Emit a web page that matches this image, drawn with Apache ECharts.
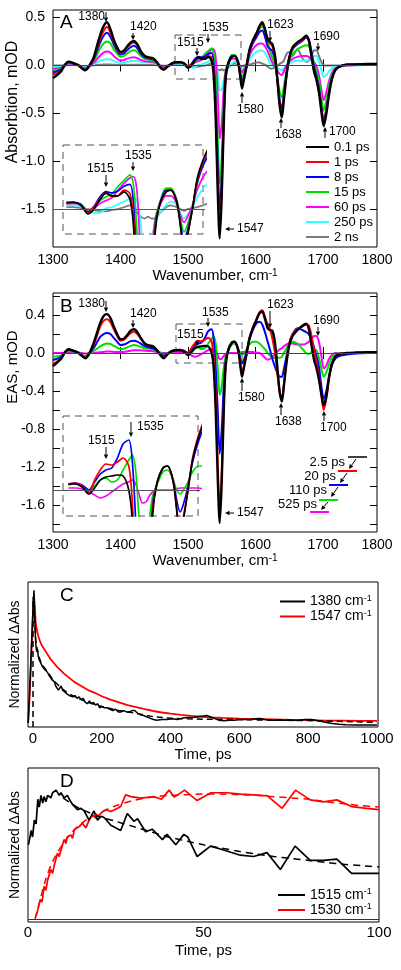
<!DOCTYPE html>
<html><head><meta charset="utf-8">
<script src="https://cdn.jsdelivr.net/npm/echarts@6/dist/echarts.min.js"></script>
<style>html,body{margin:0;padding:0;background:#fff}#c{width:401px;height:970px}</style>
</head><body><div id="c"></div>
<script>
// ---------- DATA ----------
const W = [1300,1306,1312,1318,1323,1330,1337,1343,1348,1354,
1360,1365,1370,1375,1380,1385,1390,1395,1400,1405,
1410,1415,1420,1425,1430,1436,1442,1448,1454,1459,
1464,1470,1476,1482,1488,1494,1500,1505,1510,1515,
1520,1525,1530,1535,1538,1541,1544,1547,1550,1553,
1556,1560,1565,1569,1574,1577,1580,1583,1587,1591,
1596,1601,1606,1610,1614,1618,1622,1625,1629,1633,
1636,1639,1642,1646,1650,1655,1662,1670,1675,1679,
1683,1687,1690,1694,1698,1701,1705,1709,1713,1718,
1725,1735,1750,1765,1780];

const A_01ps = [-0.13,-0.10,-0.06,0.01,0.04,0.025,0.005,-0.03,-0.05,0.0,
0.08,0.2,0.32,0.41,0.45,0.38,0.27,0.19,0.14,0.155,
0.2,0.24,0.255,0.22,0.15,0.1,0.085,0.075,0.035,-0.02,
-0.045,-0.01,0.022,0.035,0.035,0.02,-0.025,0.0,0.05,0.084,
0.07,0.07,0.09,0.05,-0.1,-0.55,-1.3,-1.8,-1.35,-0.6,
-0.12,0.03,0.09,0.10,0.035,-0.09,-0.24,-0.14,0.0,0.16,
0.26,0.33,0.41,0.45,0.38,0.27,0.24,0.225,0.1,-0.2,
-0.43,-0.54,-0.36,-0.1,0.08,0.19,0.24,0.28,0.31,0.26,
0.09,-0.07,-0.14,-0.28,-0.5,-0.63,-0.5,-0.3,-0.15,-0.05,
-0.01,0.01,0.012,0.015,0.015];
const A_1ps = [-0.095,-0.08,-0.05,0.01,0.04,0.025,0.005,-0.03,-0.05,0.0,
0.07,0.18,0.28,0.36,0.40,0.345,0.25,0.175,0.13,0.145,
0.185,0.225,0.24,0.21,0.145,0.095,0.08,0.07,0.032,-0.018,
-0.04,-0.01,0.02,0.033,0.035,0.022,-0.02,0.01,0.055,0.084,
0.065,0.07,0.1,0.08,-0.05,-0.45,-1.2,-1.72,-1.3,-0.55,
-0.1,0.03,0.09,0.10,0.035,-0.08,-0.21,-0.13,0.0,0.15,
0.25,0.32,0.40,0.43,0.37,0.27,0.23,0.2,0.08,-0.2,
-0.41,-0.5,-0.34,-0.1,0.08,0.18,0.23,0.27,0.30,0.26,
0.1,-0.06,-0.13,-0.26,-0.47,-0.59,-0.47,-0.28,-0.14,-0.05,
-0.01,0.005,0.01,0.012,0.012];
const A_8ps = [-0.07,-0.06,-0.04,0.01,0.035,0.022,0.005,-0.027,-0.045,0.0,
0.06,0.15,0.24,0.31,0.34,0.30,0.22,0.155,0.115,0.125,
0.16,0.19,0.205,0.18,0.125,0.085,0.072,0.063,0.03,-0.014,
-0.035,-0.008,0.018,0.032,0.035,0.025,-0.015,0.015,0.065,0.092,
0.085,0.095,0.12,0.13,0.02,-0.35,-1.0,-1.5,-1.15,-0.5,
-0.08,0.03,0.1,0.10,0.04,-0.07,-0.17,-0.11,0.0,0.14,
0.23,0.29,0.35,0.365,0.3,0.2,0.17,0.15,0.05,-0.18,
-0.37,-0.45,-0.3,-0.08,0.08,0.17,0.22,0.26,0.29,0.27,
0.14,-0.02,-0.1,-0.23,-0.45,-0.57,-0.45,-0.27,-0.13,-0.05,
-0.01,0.005,0.008,0.01,0.01];
const A_15ps = [-0.05,-0.045,-0.03,0.005,0.03,0.02,0.005,-0.022,-0.038,-0.002,
0.045,0.11,0.18,0.23,0.25,0.23,0.17,0.125,0.09,0.1,
0.125,0.15,0.16,0.14,0.1,0.07,0.06,0.052,0.025,-0.01,
-0.028,-0.006,0.015,0.03,0.033,0.025,-0.01,0.01,0.045,0.065,
0.08,0.12,0.15,0.18,0.12,-0.15,-0.75,-1.23,-0.95,-0.4,
-0.06,0.04,0.11,0.11,0.05,-0.05,-0.12,-0.08,0.01,0.13,
0.24,0.31,0.38,0.40,0.36,0.26,0.14,0.08,0.0,-0.15,
-0.28,-0.33,-0.22,-0.06,0.05,0.12,0.17,0.2,0.21,0.2,
0.12,0.02,-0.05,-0.16,-0.36,-0.47,-0.36,-0.21,-0.1,-0.04,
-0.01,0.005,0.006,0.008,0.008];
const A_60ps = [-0.035,-0.032,-0.022,0.0,0.022,0.015,0.005,-0.016,-0.028,-0.004,
0.025,0.065,0.105,0.135,0.145,0.135,0.1,0.07,0.05,0.057,
0.072,0.082,0.085,0.075,0.058,0.045,0.04,0.036,0.02,-0.004,
-0.018,-0.003,0.012,0.027,0.03,0.022,-0.005,0.005,0.03,0.045,
0.06,0.1,0.135,0.165,0.17,0.08,-0.3,-0.76,-0.6,-0.25,
-0.05,0.02,0.07,0.07,0.03,-0.03,-0.07,-0.04,0.02,0.1,
0.17,0.21,0.23,0.23,0.2,0.15,0.08,0.03,-0.02,-0.06,
-0.09,-0.1,-0.06,0.0,0.04,0.07,0.09,0.1,0.1,0.09,
0.06,0.03,0.0,-0.1,-0.27,-0.36,-0.28,-0.16,-0.08,-0.03,
-0.01,0.0,0.004,0.006,0.006];
const A_250ps = [-0.017,-0.016,-0.012,-0.002,0.012,0.01,0.004,-0.01,-0.018,-0.004,
0.012,0.03,0.05,0.06,0.065,0.062,0.048,0.034,0.025,0.028,
0.037,0.046,0.05,0.047,0.04,0.033,0.03,0.027,0.016,0.0,
-0.008,0.0,0.01,0.02,0.02,0.012,-0.005,-0.02,-0.02,0.005,
0.01,0.025,0.04,0.055,0.06,0.04,-0.08,-0.26,-0.25,-0.15,
-0.07,-0.02,0.02,0.04,0.02,-0.02,-0.05,-0.03,0.01,0.06,
0.11,0.14,0.155,0.155,0.13,0.08,0.02,0.0,-0.01,-0.03,
-0.04,-0.05,-0.03,0.0,0.02,0.04,0.05,0.05,0.05,0.06,
0.08,0.1,0.1,0.04,-0.06,-0.12,-0.1,-0.06,-0.03,-0.01,
0.0,0.0,0.003,0.004,0.004];
const A_2ns = [0.0,0.0,0.0,0.003,0.005,0.005,0.002,-0.005,-0.01,-0.002,
0.003,0.005,0.008,0.01,0.01,0.01,0.008,0.006,0.005,0.005,
0.006,0.007,0.008,0.008,0.007,0.006,0.006,0.005,0.003,0.0,
-0.003,0.0,0.005,0.01,0.01,0.005,0.0,-0.005,-0.01,-0.012,
-0.005,0.0,0.01,0.02,0.0,-0.02,-0.04,-0.05,-0.04,-0.05,
-0.05,-0.02,0.01,0.02,0.01,0.0,-0.01,0.0,0.005,0.01,
0.02,0.03,0.03,0.02,0.01,-0.01,-0.03,-0.03,-0.02,0.0,
0.02,0.03,0.05,0.12,0.14,0.1,0.17,0.07,0.04,0.05,
0.1,0.16,0.16,0.1,0.03,0.0,0.0,0.0,0.0,0.0,
0.0,0.005,0.01,0.012,0.012];

const B_2p5ps = [-0.137,-0.1,-0.06,0.01,0.04,0.025,0.005,-0.03,-0.055,0.0,
0.1,0.21,0.32,0.39,0.41,0.37,0.28,0.2,0.145,0.15,
0.19,0.235,0.25,0.22,0.16,0.1,0.08,0.07,0.03,-0.02,
-0.055,-0.01,0.02,0.03,0.03,0.015,-0.02,0.01,0.05,0.065,
0.07,0.075,0.07,0.0,-0.15,-0.6,-1.3,-1.79,-1.35,-0.6,
-0.12,0.04,0.11,0.12,0.04,-0.1,-0.25,-0.15,0.0,0.15,
0.26,0.34,0.42,0.435,0.36,0.26,0.24,0.235,0.1,-0.2,
-0.42,-0.51,-0.35,-0.1,0.08,0.18,0.24,0.29,0.31,0.25,
0.08,-0.08,-0.15,-0.28,-0.45,-0.55,-0.45,-0.25,-0.12,-0.04,
-0.01,0.0,0.005,0.008,0.01];
const B_20ps = [-0.115,-0.09,-0.055,0.01,0.04,0.025,0.005,-0.03,-0.05,0.0,
0.08,0.18,0.28,0.34,0.355,0.325,0.25,0.18,0.13,0.14,
0.175,0.21,0.225,0.2,0.15,0.1,0.08,0.07,0.03,-0.02,
-0.05,-0.01,0.02,0.03,0.035,0.02,-0.015,0.05,0.1,0.13,
0.125,0.14,0.16,0.12,-0.05,-0.45,-1.15,-1.66,-1.25,-0.55,
-0.1,0.04,0.11,0.12,0.04,-0.09,-0.21,-0.13,0.0,0.16,
0.27,0.35,0.43,0.45,0.38,0.3,0.24,0.15,0.0,-0.25,
-0.42,-0.48,-0.33,-0.08,0.1,0.2,0.25,0.28,0.3,0.29,
0.18,0.02,-0.08,-0.25,-0.47,-0.6,-0.48,-0.27,-0.12,-0.04,
-0.01,0.0,0.005,0.008,0.01];
const B_110ps = [-0.074,-0.06,-0.04,0.01,0.035,0.02,0.005,-0.03,-0.05,-0.005,
0.05,0.11,0.17,0.2,0.21,0.2,0.16,0.12,0.085,0.09,
0.105,0.125,0.13,0.12,0.1,0.072,0.06,0.05,0.025,-0.01,
-0.03,-0.005,0.02,0.03,0.035,0.025,0.0,0.04,0.08,0.1,
0.11,0.16,0.23,0.25,0.15,-0.15,-0.6,-1.06,-0.8,-0.35,
-0.07,0.04,0.11,0.12,0.05,-0.05,-0.11,-0.07,0.02,0.14,
0.24,0.31,0.33,0.3,0.22,0.12,0.02,-0.06,-0.15,-0.22,
-0.25,-0.25,-0.17,-0.03,0.1,0.2,0.26,0.24,0.22,0.2,
0.15,0.05,-0.02,-0.15,-0.37,-0.48,-0.4,-0.25,-0.13,-0.06,
-0.03,-0.015,-0.005,0.0,0.0];
const B_525ps = [-0.04,-0.035,-0.025,0.005,0.025,0.015,0.005,-0.02,-0.03,-0.005,
0.02,0.045,0.07,0.09,0.1,0.095,0.075,0.058,0.042,0.045,
0.06,0.075,0.085,0.078,0.065,0.05,0.045,0.04,0.02,0.0,
-0.012,0.0,0.015,0.025,0.03,0.025,0.0,0.02,0.05,0.06,
0.04,0.05,0.1,0.15,0.175,0.1,-0.15,-0.44,-0.35,-0.15,
-0.03,0.03,0.09,0.1,0.05,0.0,-0.02,0.0,0.04,0.09,
0.12,0.12,0.1,0.07,0.04,0.0,-0.03,-0.05,-0.05,-0.05,
-0.05,-0.04,0.0,0.05,0.1,0.12,0.1,0.04,0.0,-0.01,
0.01,0.03,0.03,-0.05,-0.18,-0.25,-0.2,-0.12,-0.05,-0.02,
0.0,0.0,0.0,0.003,0.003];
const B_final = [0.0,0.0,0.0,0.005,0.01,0.008,0.003,0.0,-0.005,0.0,
0.002,0.005,0.008,0.012,0.015,0.015,0.012,0.01,0.01,0.012,
0.018,0.025,0.03,0.03,0.028,0.025,0.022,0.02,0.012,0.005,
0.0,0.0,0.005,0.01,0.01,0.005,-0.01,-0.025,-0.04,-0.03,
-0.01,0.01,0.03,0.04,0.05,0.03,-0.02,-0.065,-0.06,-0.03,
-0.01,0.0,0.0,0.0,0.0,0.005,0.01,0.01,0.01,0.01,
0.01,0.005,0.0,-0.02,-0.05,-0.07,-0.06,-0.04,-0.01,0.02,
0.04,0.05,0.07,0.09,0.1,0.1,0.09,0.09,0.1,0.12,
0.15,0.18,0.18,0.12,-0.05,-0.16,-0.13,-0.06,-0.02,0.0,
0.0,0.0,0.0,0.002,0.002];

const C_t_1380 = [-14,-10,-6,-2,1,3,5,7,9,11,13,15,17,19,22,25,28,31,34,38,42,46,50,54,58,62,66,70,74,78,82,86,90,95,100,105,110,116,122,128,134,140,146,152,158,164,170,176,182,188,194,200,208,216,224,232,240,248,256,264,272,280,288,296,304,312,320,330,340,350,360,375,390,405,420,435,450,465,480,495,505,515,525,540,555,570,585,600,615,630,645,660,675,690,710,730,750,770,790,810,830,850,870,890,910,940,970,1000];
const C_v_1380 = [0.03,0.25,0.5,0.75,0.92,1.0,0.82,0.66,0.58,0.55,0.57,0.52,0.5,0.51,0.47,0.46,0.44,0.45,0.42,0.43,0.4,0.38,0.39,0.35,0.34,0.33,0.3,0.31,0.27,0.28,0.3,0.27,0.26,0.25,0.25,0.23,0.24,0.22,0.23,0.21,0.22,0.2,0.21,0.18,0.17,0.19,0.17,0.18,0.16,0.17,0.14,0.15,0.14,0.14,0.13,0.12,0.13,0.11,0.11,0.12,0.11,0.11,0.12,0.12,0.1,0.09,0.085,0.075,0.065,0.055,0.05,0.055,0.055,0.06,0.055,0.065,0.07,0.07,0.075,0.08,0.085,0.075,0.065,0.05,0.045,0.05,0.05,0.055,0.055,0.055,0.06,0.062,0.055,0.05,0.05,0.05,0.052,0.05,0.055,0.055,0.045,0.035,0.025,0.02,0.016,0.015,0.015,0.015];
const C_t_1547 = [-14,-10,-6,-2,1,3,5,8,12,16,20,25,30,40,50,60,70,80,90,100,120,140,160,180,200,225,250,275,300,325,350,375,400,430,460,490,520,550,600,650,700,750,800,850,900,950,1000];
const C_v_1547 = [0.03,0.22,0.45,0.7,0.88,0.96,0.88,0.76,0.7,0.66,0.63,0.6,0.58,0.54,0.5,0.47,0.44,0.415,0.39,0.37,0.33,0.3,0.27,0.25,0.225,0.2,0.18,0.16,0.145,0.13,0.117,0.106,0.097,0.088,0.081,0.075,0.07,0.066,0.061,0.058,0.055,0.052,0.05,0.047,0.046,0.045,0.045];
const C_fit_t = [0,0,3,8,15,25,40,60,80,100,130,160,200,250,300,350,400,450,500,600,700,800,900,1000];
const C_fit_v = [0,0.95,0.9,0.63,0.53,0.46,0.41,0.34,0.29,0.25,0.21,0.18,0.15,0.12,0.1,0.075,0.064,0.06,0.057,0.054,0.05,0.047,0.04,0.035];

const D_t_1515 = [0.1,0.5,0.9,1.3,1.8,2.3,2.8,3.2,3.7,4.2,4.6,5.1,5.6,6.5,7.0,7.5,8.0,8.4,8.9,9.4,9.8,10.3,10.8,11.2,11.7,12.2,12.7,13.2,14.1,15.1,16.0,17.4,18.8,19.8,20.8,21.7,23.6,26.4,28.3,30.2,31.2,33.5,35.4,38.3,39.6,42.1,44.4,45.5,48.2,52.0,55.7,60.5,64.3,68.1,71.9,76.1,80.4,84.2,88.0,92.2,96.5,100];
const D_v_1515 = [0.57,0.62,0.68,0.63,0.76,0.73,0.92,0.86,0.95,0.89,0.94,0.9,0.95,0.93,0.97,0.96,0.99,1.0,0.95,0.97,0.96,0.93,0.92,0.95,0.94,0.9,0.88,0.89,0.84,0.85,0.83,0.76,0.83,0.76,0.79,0.78,0.72,0.68,0.81,0.75,0.77,0.67,0.69,0.61,0.65,0.57,0.65,0.63,0.48,0.56,0.53,0.49,0.48,0.51,0.38,0.56,0.45,0.45,0.46,0.35,0.35,0.35];
const D_t_1530 = [2.3,2.8,3.5,4.0,4.6,5.1,5.6,6.5,7.0,7.5,8.4,8.9,9.4,10.3,10.8,11.2,12.2,12.7,13.2,14.6,15.5,16.5,17.4,18.4,19.3,20.8,22.2,23.6,25.5,26.4,27.8,29.3,32.1,35.9,38.0,40.2,41.7,44.6,48.2,52.1,56.8,60.6,64.4,68.2,72.4,76.2,80.4,84.2,88.0,92.2,96.5,100];
const D_v_1530 = [0.02,0.07,0.15,0.13,0.25,0.22,0.3,0.38,0.35,0.415,0.505,0.48,0.53,0.61,0.58,0.63,0.646,0.62,0.685,0.71,0.736,0.7,0.76,0.8,0.774,0.813,0.84,0.826,0.85,0.864,0.954,0.94,0.928,0.94,0.92,0.99,0.936,0.99,0.91,0.97,0.97,0.96,0.954,0.946,0.85,0.99,0.915,0.9,0.915,0.864,0.85,0.84];
const D_fit1515_t = [10,14,20,25,30,35,40,45,50,55,60,65,70,75,80,85,90,95,100];
const D_fit1515_v = [0.93,0.86,0.79,0.75,0.71,0.67,0.63,0.6,0.57,0.545,0.52,0.5,0.48,0.465,0.45,0.435,0.42,0.41,0.4];
const D_fit1530_t = [2,3,5,7,10,13,16,20,25,30,35,40,45,50,55,60,65,70,75,80,85,90,95,100];
const D_fit1530_v = [0,0.1,0.3,0.44,0.58,0.68,0.75,0.81,0.87,0.91,0.935,0.95,0.955,0.96,0.96,0.955,0.95,0.94,0.93,0.92,0.9,0.885,0.87,0.86];

const WN_LABEL_POS = [1300,1400,1500,1600,1700,1780];
const WN_LABEL_TEXT = ['1300','1400','1500','1600','1700','1800'];
const WN_TICKS = [1400,1500,1600,1700];
const A_Y_TICKS = [-1.5,-1.0,-0.5,0,0.5];
const B_Y_LABELS = [-1.6,-1.2,-0.8,-0.4,0,0.4];
const B_Y_TICKS = [-1.8,-1.6,-1.4,-1.2,-1.0,-0.8,-0.6,-0.4,-0.2,0,0.2,0.4,0.6];
const C_X_LABELS = [0,200,400,600,800,1000];
const D_X_LABELS = [0,50,100];

// ---------- BUILD ----------
const FONT = '"Liberation Sans", Arial, Helvetica, sans-serif';
const COL = {k:'#000000', r:'#ff0000', b:'#0000ff', g:'#00e000', m:'#ff00ff', c:'#33ffff', y:'#7a7a7a'};
function pairs(xs, ys, lo){ const o=[]; for(let i=0;i<xs.length;i++){ if(lo!=null && xs[i]<lo) continue; o.push([xs[i],ys[i]]);} return o; }
function line(name, data, color, xi, yi, width, extra){
  return Object.assign({type:'line', name, data, xAxisIndex:xi, yAxisIndex:yi, showSymbol:false, symbol:'none',
    smooth:0.3, clip:true, color, lineStyle:{color, width}, itemStyle:{color}, animation:false}, extra||{});
}
const zeroLine = (color)=>({markLine:{silent:true, symbol:'none', animation:false, label:{show:false},
  lineStyle:{color:color||'#444', width:1, type:'solid'}, data:[{yAxis:0}]}});

const series = [];
const Aset = [['2 ns',A_2ns,COL.y],['250 ps',A_250ps,COL.c],['60 ps',A_60ps,COL.m],['15 ps',A_15ps,COL.g],['8 ps',A_8ps,COL.b],['1 ps',A_1ps,COL.r],['0.1 ps',A_01ps,COL.k]];
Aset.forEach((s,i)=>{ series.push(line(s[0], pairs(W,s[1]), s[2], 0, 0, s[2]===COL.k?2.4:2, i===0?zeroLine():{})); });
Aset.forEach((s,i)=>{ series.push(line(s[0], pairs(W,s[1],1479), s[2], 2, 2, 1.7, i===0?zeroLine('#555'):{})); });
const Bset = [['final',B_final,COL.m],['525 ps',B_525ps,COL.g],['110 ps',B_110ps,COL.b],['20 ps',B_20ps,COL.r],['2.5 ps',B_2p5ps,COL.k]];
Bset.forEach((s,i)=>{ series.push(line(s[0], pairs(W,s[1]), s[2], 3, 3, s[2]===COL.k?2.4:2, i===0?zeroLine():{})); });
Bset.forEach((s,i)=>{ series.push(line(s[0], pairs(W,s[1],1477), s[2], 5, 5, 1.7, i===0?zeroLine('#555'):{})); });
series.push(line('1547 cm-1', pairs(C_t_1547,C_v_1547), COL.r, 6, 6, 1.8, {smooth:false}));
series.push(line('fitC', pairs(C_fit_t,C_fit_v), COL.k, 6, 6, 1.5, {smooth:false, lineStyle:{color:'#000', width:1.5, type:[6,4]}}));
series.push(line('1380 cm-1', pairs(C_t_1380,C_v_1380), COL.k, 6, 6, 1.5, {smooth:false}));
series.push(line('1530 cm-1', pairs(D_t_1530,D_v_1530), COL.r, 7, 7, 1.7, {smooth:false}));
series.push(line('1515 cm-1', pairs(D_t_1515,D_v_1515), COL.k, 7, 7, 1.7, {smooth:false}));
series.push(line('fitD1', pairs(D_fit1515_t,D_fit1515_v), COL.k, 7, 7, 1.5, Object.assign({smooth:0.3, lineStyle:{color:'#000', width:1.5, type:[7,5]}}, zeroLine('#333'))));
series.push(line('fitD2', pairs(D_fit1530_t,D_fit1530_v), COL.r, 7, 7, 1.5, {smooth:0.3, lineStyle:{color:'#ff0000', width:1.5, type:[7,5]}}));

const RICH = {a:{fontSize:15, fontFamily:FONT, color:'#000'}, s:{fontSize:10, fontFamily:FONT, color:'#000', verticalAlign:'top'}};
const wnFmt = v => WN_LABEL_TEXT[WN_LABEL_POS.indexOf(v)];
function wnX(grid, pos, named, gap){
  const ax = {gridIndex:grid, type:'value', min:1300, max:1780, position:pos, axisLine:{show:false}, splitLine:{show:false},
    axisTick:{show:true, inside:true, length:6, customValues:WN_TICKS, lineStyle:{color:'#000'}}};
  if(named){
    ax.axisLabel = {customValues:WN_LABEL_POS, formatter:wnFmt, margin:6, fontSize:14, color:'#000', fontFamily:FONT};
    ax.name = '{a|Wavenumber, cm}{s|-1}'; ax.nameLocation='middle'; ax.nameGap=gap;
    ax.nameTextStyle = {fontSize:15, fontFamily:FONT, color:'#000', rich:RICH};
  } else ax.axisLabel = {show:false};
  return ax;
}
function valY(grid, pos, min, max, ticks, labels){
  const ax = {gridIndex:grid, type:'value', min, max, position:pos, axisLine:{show:false}, splitLine:{show:false},
    axisTick:{show:true, inside:true, length:7, customValues:ticks, lineStyle:{color:'#000'}}};
  if(labels) ax.axisLabel = {customValues:labels, formatter:v=>v.toFixed(1), margin:8, fontSize:14, color:'#000', fontFamily:FONT};
  else ax.axisLabel = {show:false};
  return ax;
}
const plainFmt = v => String(v);

const xAxis = [
  wnX(0,'bottom',true,19), wnX(0,'top',false),
  {gridIndex:1, type:'value', min:1470.8, max:1597.5, show:false},
  wnX(2,'bottom',true,18), wnX(2,'top',false),
  {gridIndex:3, type:'value', min:1468.5, max:1597.5, show:false},
  {gridIndex:4, type:'value', min:-14.5, max:1003, axisLine:{show:false}, splitLine:{show:false}, axisTick:{show:false},
    axisLabel:{customValues:C_X_LABELS, formatter:plainFmt, margin:4, fontSize:15, color:'#000', fontFamily:FONT},
    name:'Time, ps', nameLocation:'middle', nameGap:16, nameTextStyle:{fontSize:15, fontFamily:FONT, color:'#000'}},
  {gridIndex:5, type:'value', min:0, max:100, axisLine:{show:false}, splitLine:{show:false}, axisTick:{show:false},
    axisLabel:{customValues:D_X_LABELS, formatter:plainFmt, margin:3, fontSize:15, color:'#000', fontFamily:FONT},
    name:'Time, ps', nameLocation:'middle', nameGap:21, nameTextStyle:{fontSize:15, fontFamily:FONT, color:'#000'}}
];
const yAxis = [
  valY(0,'left',-1.89,0.578,A_Y_TICKS,A_Y_TICKS), valY(0,'right',-1.89,0.578,A_Y_TICKS,null),
  {gridIndex:1, type:'value', min:-0.131, max:0.337, show:false},
  valY(2,'left',-1.884,0.632,B_Y_TICKS,B_Y_LABELS), valY(2,'right',-1.884,0.632,B_Y_TICKS,null),
  {gridIndex:3, type:'value', min:-0.13, max:0.37, show:false},
  {gridIndex:4, type:'value', min:0, max:1.06, axisLine:{show:false}, splitLine:{show:false}, axisTick:{show:false}, axisLabel:{show:false},
    name:'Normalized ΔAbs', nameLocation:'middle', nameGap:6, nameTextStyle:{fontSize:14, fontFamily:FONT, color:'#000'}},
  {gridIndex:5, type:'value', min:-0.023, max:1.16, axisLine:{show:false}, splitLine:{show:false}, axisTick:{show:false}, axisLabel:{show:false},
    name:'Normalized ΔAbs', nameLocation:'middle', nameGap:6, nameTextStyle:{fontSize:14, fontFamily:FONT, color:'#000'}}
];
const box = {show:true, borderColor:'#000', borderWidth:1, backgroundColor:'transparent'};
const grid = [
  Object.assign({left:53, top:10, width:324, height:237}, box),
  {left:53, top:145, width:152, height:89},
  Object.assign({left:53, top:293, width:324, height:239}, box),
  {left:53, top:416, width:147, height:100},
  Object.assign({left:27, top:582, width:351, height:145}, box),
  Object.assign({left:27, top:768, width:352, height:154}, box)
];

const legRich = {a:{fontSize:14, fontFamily:FONT, color:'#000', lineHeight:15}, s:{fontSize:9, fontFamily:FONT, color:'#000', verticalAlign:'top'}};
const cmFmt = n => '{a|' + n.replace('-1','') + '}{s|-1}';
const legend = [
  {left:306, top:139.5, orient:'vertical', icon:'rect', itemWidth:23, itemHeight:2, itemGap:0, padding:0, selectedMode:false,
   textStyle:{fontSize:13, lineHeight:15, fontFamily:FONT, color:'#000'},
   data:['0.1 ps','1 ps','8 ps','15 ps','60 ps','250 ps','2 ns']},
  {left:280, top:594, orient:'vertical', icon:'rect', itemWidth:25, itemHeight:2, itemGap:0, padding:0, selectedMode:false,
   formatter:cmFmt, textStyle:{fontSize:14, lineHeight:14, fontFamily:FONT, color:'#000', rich:legRich},
   data:['1380 cm-1','1547 cm-1']},
  {left:278, top:887.5, orient:'vertical', icon:'rect', itemWidth:27, itemHeight:2, itemGap:0, padding:0, selectedMode:false,
   formatter:cmFmt, textStyle:{fontSize:14, lineHeight:15, fontFamily:FONT, color:'#000', rich:legRich},
   data:['1515 cm-1','1530 cm-1']}
];

// ---------- ANNOTATIONS ----------
const G = [];
function txt(s,x,y,o){ o=o||{}; G.push({type:'text', z:60, x, y, rotation:o.rot||0,
  style:{text:s, fontSize:o.size||12, fontFamily:FONT, fill:'#000', align:o.align||'left', verticalAlign:o.va||'middle'}}); }
function arrow(x1,y1,x2,y2){
  const dx=x2-x1, dy=y2-y1, L=Math.hypot(dx,dy), ux=dx/L, uy=dy/L, hl=4.5, hw=2.2;
  const bx=x2-ux*hl, by=y2-uy*hl;
  G.push({type:'line', z:60, shape:{x1, y1, x2:bx, y2:by}, style:{stroke:'#000', lineWidth:1}});
  G.push({type:'polygon', z:60, shape:{points:[[x2,y2],[bx-uy*hw,by+ux*hw],[bx+uy*hw,by-ux*hw]]}, style:{fill:'#000'}});
}
function seg(x1,y1,x2,y2,c,w){ G.push({type:'line', z:60, shape:{x1,y1,x2,y2}, style:{stroke:c, lineWidth:w||2}}); }
function drect(x,y,w,h){ G.push({type:'rect', z:1, shape:{x,y,width:w,height:h}, style:{fill:'none', stroke:'#555', lineWidth:1, lineDash:[7,5]}}); }

// panel A
txt('A',60,13,{size:19, va:'top'});
txt('1380',105,17,{align:'right'}); arrow(106,12,106,22);
txt('1420',130,27); arrow(133,33,133,40);
txt('1515',177,43); arrow(197,48,197,56);
txt('1535',202,28); arrow(208,34,208,43);
txt('1623',267,25); arrow(270,31,270,42);
txt('1690',313,37); arrow(318,43,318,51);
txt('1580',237,110); arrow(242,103,242,92);
txt('1638',275,135); arrow(281,128,281,118);
txt('1700',329,132); arrow(325,138,325,127);
arrow(234,229,225,229); txt('1547',237,229);
txt('1515',87,169); arrow(106,175,106,187);
txt('1535',125,156); arrow(133,162,133,171);
drect(175,35,66,44); drect(63,145,140,89);
txt('Absorbtion, mOD',13,102,{size:16, align:'center', rot:Math.PI/2});
// panel B
txt('B',60,297,{size:19, va:'top'});
txt('1380',105,304,{align:'right'}); arrow(106,301,106,312);
txt('1420',130,314); arrow(133,320,133,328);
txt('1515',177,335); arrow(197,340,197,346);
txt('1535',202,313); arrow(208,318,208,327);
txt('1623',267,305); arrow(270,311,270,328);
txt('1690',313,321); arrow(318,327,318,336);
txt('1580',238,398); arrow(242,391,242,378);
txt('1638',275,422); arrow(281,415,281,403);
txt('1700',320,428); arrow(324,421,324,411);
arrow(234,513,225,513); txt('1547',237,513);
txt('1515',88,441); arrow(106,447,106,459);
txt('1535',137,427); arrow(131,422,131,437);
drect(176,324,66,39); drect(63,416,135,100);
txt('EAS, mOD',13,367,{size:15, align:'center', rot:Math.PI/2});
// kinetic scheme
seg(348,457,367,457,'#000',1.5); seg(338,471,357,471,COL.r); seg(329,485,348,485,COL.b); seg(319,500,338,500,COL.g); seg(310,512,329,512,COL.m);
arrow(356,459,349,469); arrow(347,473,340,483); arrow(338,487,331,497); arrow(328,502,321,510);
txt('2.5 ps',345,462,{size:13, align:'right'}); txt('20 ps',336,476,{size:13, align:'right'});
txt('110 ps',327,490,{size:13, align:'right'}); txt('525 ps',317,504,{size:13, align:'right'});
// panels C, D
txt('C',60,586,{size:19, va:'top'});
txt('D',60,772,{size:19, va:'top'});

const option = {animation:false, backgroundColor:'#fff', textStyle:{fontFamily:FONT},
  grid, xAxis, yAxis, legend, series, graphic:{elements:G}};
const chart = echarts.init(document.getElementById('c'), null, {renderer:'canvas'});
chart.setOption(option);
</script></body></html>
